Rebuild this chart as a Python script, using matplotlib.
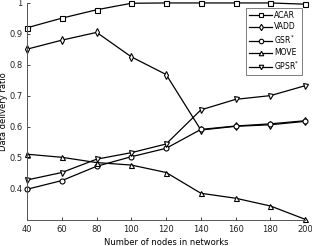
import matplotlib
matplotlib.use("Agg")
import matplotlib.pyplot as plt

nodes = [40, 60, 80, 100, 120, 140, 160, 180, 200]
acar = [0.920, 0.951, 0.978, 0.999, 1.0, 1.0, 1.0, 1.0, 0.996]
vadd = [0.851, 0.880, 0.905, 0.826, 0.769, 0.590, 0.602, 0.607, 0.618]
gsr = [0.399, 0.427, 0.473, 0.504, 0.531, 0.592, 0.603, 0.610, 0.620]
move = [0.512, 0.502, 0.485, 0.477, 0.453, 0.386, 0.370, 0.345, 0.302]
gpsr = [0.429, 0.453, 0.496, 0.517, 0.545, 0.655, 0.689, 0.701, 0.733]

fig = plt.figure(figsize=(3.12, 2.46), dpi=100)
ax = fig.add_axes([0.087, 0.106, 0.891, 0.882])

series = [(acar, 's', 'ACAR'), (vadd, 'd', 'VADD'), (gsr, 'o', 'GSR$^{*}$'),
          (move, '^', 'MOVE'), (gpsr, 'v', 'GPSR$^{*}$')]
for vals, m, lab in series:
    ax.plot(nodes, vals, color='black', lw=0.9, marker=m, ms=3.6,
            mfc='white', mec='black', mew=0.8, label=lab, clip_on=False)

ax.set_xlim(40, 200)
ax.set_ylim(0.3, 1.0)
ax.set_xticks([40, 60, 80, 100, 120, 140, 160, 180, 200])
ax.set_yticks([0.4, 0.5, 0.6, 0.7, 0.8, 0.9, 1.0])
ax.set_yticklabels(['0.4', '0.5', '0.6', '0.7', '0.8', '0.9', '1'])
ax.tick_params(labelsize=6, direction='in', length=2, width=0.6, colors='#222222')
ax.spines['top'].set_visible(False)
ax.spines['right'].set_visible(False)
for s in ('left', 'bottom'):
    ax.spines[s].set_linewidth(0.7)
    ax.spines[s].set_color('#555555')
ax.set_xlabel('Number of nodes in networks', fontsize=6, labelpad=3)
ax.set_ylabel('Data delivery ratio', fontsize=6, labelpad=1)

leg = ax.legend(loc='upper right', fontsize=5.5, frameon=True, fancybox=False,
                edgecolor='#444444', handlelength=3, borderaxespad=0.3,
                labelspacing=0.3, handletextpad=0.3, borderpad=0.35,
                bbox_to_anchor=(0.998, 0.985), markerscale=0.9)
leg.get_frame().set_linewidth(0.6)

fig.savefig('out.png', dpi=100)
